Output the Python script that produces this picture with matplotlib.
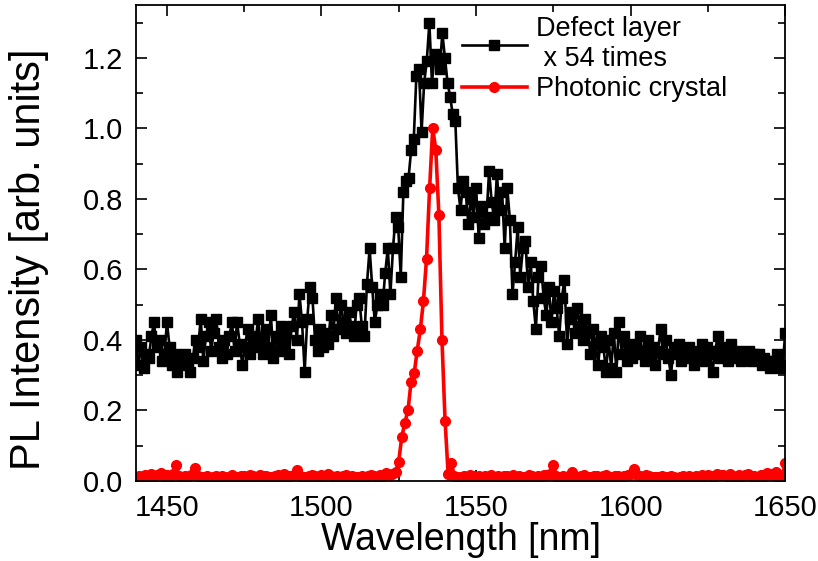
import numpy as np
import matplotlib
matplotlib.use("Agg")
import matplotlib.pyplot as plt
from matplotlib.ticker import MultipleLocator

plt.rcParams['font.family'] = ['Liberation Sans', 'DejaVu Sans']

# Defect layer (x 54), spread evenly over 1440-1650 nm
defect = [
    0.40, 0.33, 0.38, 0.32, 0.36, 0.35, 0.41, 0.45, 0.38, 0.40, 0.34, 0.36,
    0.45, 0.38, 0.33, 0.36, 0.31, 0.35, 0.34, 0.36, 0.33, 0.31, 0.35, 0.40,
    0.38, 0.46, 0.34, 0.41, 0.45, 0.37, 0.42, 0.46, 0.38, 0.35, 0.40, 0.36,
    0.41, 0.45, 0.37, 0.45, 0.39, 0.33, 0.38, 0.43, 0.36, 0.41, 0.38, 0.46,
    0.40, 0.36, 0.43, 0.38, 0.47, 0.35, 0.41, 0.37, 0.44, 0.39, 0.42, 0.36,
    0.44, 0.48, 0.40, 0.53, 0.45, 0.31, 0.46, 0.55, 0.52, 0.40, 0.37, 0.43,
    0.38, 0.42, 0.39, 0.47, 0.41, 0.52, 0.43, 0.50, 0.45, 0.42, 0.48, 0.44,
    0.41, 0.50, 0.52, 0.44, 0.41, 0.56, 0.66, 0.55, 0.45, 0.50, 0.53, 0.50,
    0.59, 0.66, 0.53, 0.66, 0.75, 0.72, 0.58, 0.82, 0.85, 0.86, 0.94, 0.97,
    1.15, 1.17, 0.99, 1.13, 1.19, 1.30, 1.13, 1.21, 1.20, 1.17, 1.27, 1.20,
    1.13, 1.09, 1.04, 1.02, 0.83, 0.77, 0.85, 0.82, 0.73, 0.80, 0.75, 0.83,
    0.69, 0.78, 0.73, 0.75, 0.88, 0.79, 0.74, 0.87, 0.77, 0.82, 0.66, 0.83,
    0.74, 0.53, 0.62, 0.72, 0.58, 0.66, 0.68, 0.55, 0.62, 0.51, 0.43, 0.58,
    0.61, 0.52, 0.47, 0.55, 0.45, 0.54, 0.49, 0.41, 0.52, 0.57, 0.39, 0.46,
    0.48, 0.42, 0.49, 0.44, 0.40, 0.46, 0.42, 0.36, 0.43, 0.39, 0.33, 0.41,
    0.38, 0.31, 0.40, 0.32, 0.42, 0.31, 0.45, 0.36, 0.41, 0.34, 0.38, 0.35,
    0.39, 0.36, 0.41, 0.37, 0.34, 0.40, 0.35, 0.38, 0.33, 0.37, 0.43, 0.36,
    0.40, 0.35, 0.30, 0.38, 0.36, 0.39, 0.34, 0.37, 0.35, 0.38, 0.36, 0.33,
    0.37, 0.35, 0.39, 0.34, 0.38, 0.36, 0.31, 0.37, 0.41, 0.35, 0.38, 0.36,
    0.34, 0.39, 0.36, 0.35, 0.37, 0.34, 0.36, 0.35, 0.37, 0.34, 0.36, 0.35,
    0.36, 0.33, 0.35, 0.34, 0.32, 0.34, 0.33, 0.36, 0.32, 0.33, 0.42,
]

# Photonic crystal, one value per nm from 1440 to 1650
crystal = [
    0.012, 0.015, 0.010, 0.018, 0.014, 0.020, 0.012, 0.016, 0.022, 0.014,
    0.018, 0.012, 0.020, 0.045, 0.015, 0.010, 0.014, 0.012, 0.018, 0.038,
    0.015, 0.010, 0.012, 0.014, 0.009, 0.011, 0.013, 0.010, 0.015, 0.012,
    0.010, 0.018, 0.012, 0.010, 0.015, 0.013, 0.011, 0.016, 0.014, 0.012,
    0.018, 0.013, 0.015, 0.012, 0.010, 0.014, 0.016, 0.012, 0.020, 0.015,
    0.013, 0.018, 0.030, 0.015, 0.012, 0.010, 0.014, 0.018, 0.013, 0.012,
    0.016, 0.014, 0.020, 0.013, 0.011, 0.015, 0.012, 0.014, 0.017, 0.012,
    0.013, 0.010, 0.012, 0.015, 0.011, 0.013, 0.018, 0.014, 0.012, 0.016,
    0.015, 0.022, 0.018, 0.020, 0.025, 0.055, 0.125, 0.165, 0.200, 0.280,
    0.305, 0.370, 0.430, 0.510, 0.630, 0.830, 1.000, 0.940, 0.755, 0.400,
    0.170, 0.020, 0.050, 0.015, 0.012, 0.010, 0.014, 0.012, 0.016, 0.013,
    0.012, 0.015, 0.010, 0.013, 0.011, 0.016, 0.012, 0.014, 0.010, 0.013,
    0.015, 0.012, 0.018, 0.011, 0.014, 0.012, 0.010, 0.016, 0.013, 0.011,
    0.014, 0.012, 0.016, 0.018, 0.020, 0.045, 0.015, 0.012, 0.014, 0.011,
    0.013, 0.025, 0.012, 0.010, 0.014, 0.016, 0.012, 0.011, 0.015, 0.013,
    0.012, 0.014, 0.016, 0.011, 0.010, 0.013, 0.015, 0.012, 0.014, 0.018,
    0.020, 0.035, 0.018, 0.014, 0.012, 0.016, 0.013, 0.010, 0.012, 0.011,
    0.013, 0.010, 0.012, 0.015, 0.011, 0.009, 0.012, 0.014, 0.010, 0.013,
    0.011, 0.014, 0.012, 0.016, 0.013, 0.018, 0.015, 0.012, 0.020, 0.016,
    0.018, 0.013, 0.020, 0.015, 0.012, 0.017, 0.014, 0.016, 0.019, 0.013,
    0.015, 0.012, 0.018, 0.014, 0.022, 0.020, 0.016, 0.025, 0.018, 0.015,
    0.050,
]

wl_defect = np.linspace(1440, 1650, len(defect))
wl_crystal = np.linspace(1440, 1650, len(crystal))

fig = plt.figure(figsize=(8.18, 5.61), dpi=100)
ax = fig.add_axes([0.166, 0.1426, 0.794, 0.8484])

ax.plot(wl_defect, defect, color='black', lw=1.9, marker='s', ms=6.5,
        label='Defect layer\n x 54 times')
ax.plot(wl_crystal, crystal, color='red', lw=2.6, marker='o', ms=7,
        label='Photonic crystal')

ax.set_xlim(1440, 1650)
ax.set_ylim(0, 1.35)
ax.xaxis.set_major_locator(MultipleLocator(50))
ax.xaxis.set_minor_locator(MultipleLocator(25))
ax.yaxis.set_major_locator(MultipleLocator(0.2))
ax.yaxis.set_minor_locator(MultipleLocator(0.1))
ax.yaxis.set_major_formatter(plt.FormatStrFormatter('%.1f'))
ax.tick_params(which='both', direction='in', top=True, right=True,
               labelsize=21, width=1.2, pad=9)
ax.tick_params(which='major', length=8)
ax.tick_params(which='minor', length=5)
for s in ax.spines.values():
    s.set_linewidth(1.3)

ax.set_xlabel('Wavelength [nm]', fontsize=27, labelpad=0)
ax.set_ylabel('PL Intensity [arb. units]', fontsize=30)
ax.yaxis.set_label_coords(-0.133, 0.466)

ax.legend(loc='upper left', bbox_to_anchor=(0.502, 0.977), frameon=False,
          fontsize=19.5, handlelength=2.4, handletextpad=0.35,
          labelspacing=0.15, borderaxespad=0, borderpad=0)

fig.savefig('out.png', dpi=100)
